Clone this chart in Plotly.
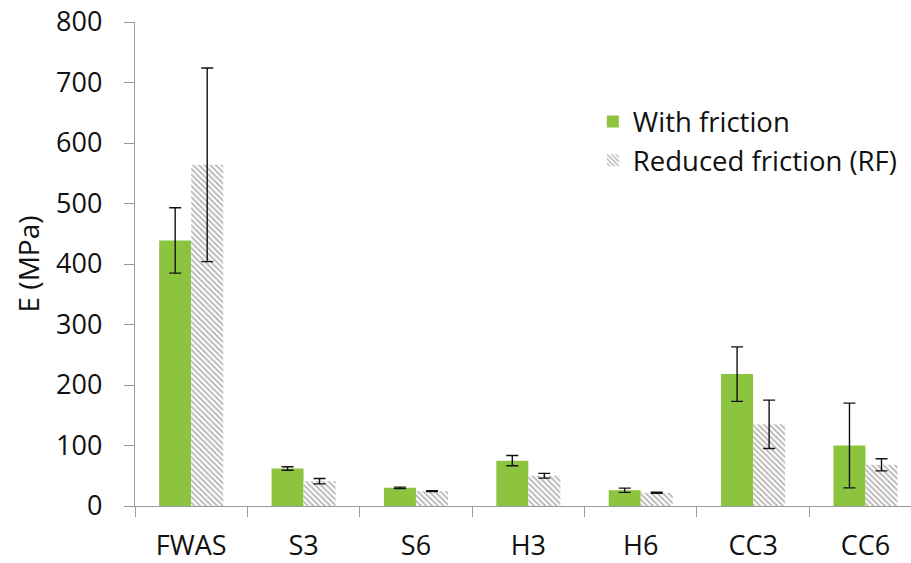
import plotly.graph_objects as go

categories = ["FWAS", "S3", "S6", "H3", "H6", "CC3", "CC6"]
with_friction = [439, 62, 30, 75, 26, 218, 100]
with_friction_err = [54, 3, 1.2, 8.5, 3.5, 45, 70]
reduced_friction = [564, 41, 24.5, 50, 22, 135, 68]
reduced_friction_err = [160, 4.5, 0.6, 4, 1, 40, 10]

FONT = "Open Sans"
AXIS_GRAY = "#9a9a9a"
FS = 27

fig = go.Figure()
fig.add_trace(go.Bar(
    x=categories, y=with_friction, name="With friction",
    legendgroup="a",
    marker=dict(color="#8cc43f", line=dict(width=0)),
    error_y=dict(type="data", array=with_friction_err, color="#111111",
                 thickness=1.4, width=6),
))
fig.add_trace(go.Bar(
    x=categories, y=reduced_friction, name="Reduced friction (RF)",
    legendgroup="b",
    marker=dict(color="white", line=dict(width=0),
                pattern=dict(shape="\\", fgcolor="#6a6862", bgcolor="white",
                             size=4, solidity=0.45)),
    error_y=dict(type="data", array=reduced_friction_err, color="#111111",
                 thickness=1.4, width=6),
))

fig.update_layout(
    width=911, height=563,
    margin=dict(l=135, r=0, t=22, b=57, pad=0, autoexpand=False),
    paper_bgcolor="white", plot_bgcolor="white",
    font=dict(family=FONT, size=FS, color="#111111"),
    barmode="group", bargap=0.43, bargroupgap=0,
    showlegend=True,
    legend=dict(x=0.59, y=0.845, xanchor="left", yanchor="top",
                bgcolor="rgba(0,0,0,0)", font=dict(size=27.5),
                tracegroupgap=0),
    xaxis=dict(
        range=[-0.5, 6.405], showline=True, linecolor=AXIS_GRAY, linewidth=1.3,
        ticks="outside", ticklen=10, tickcolor=AXIS_GRAY, tickwidth=1.3,
        tickson="boundaries", showgrid=False, ticklabelstandoff=15,
        tickfont=dict(size=FS), automargin=False, ticklabeloverflow="allow",
    ),
    yaxis=dict(
        range=[0, 800], dtick=100, showline=True, linecolor=AXIS_GRAY, linewidth=1.3,
        ticks="outside", ticklen=10, tickcolor=AXIS_GRAY, tickwidth=1.3,
        showgrid=False, zeroline=False, ticklabelstandoff=16,
        tickfont=dict(size=FS), automargin=False, ticklabeloverflow="allow",
        title=dict(text="E (MPa)", font=dict(size=FS + 1), standoff=8),
    ),
)

# remove the default 8px page margin so the 911x563 figure fills the window exactly
fig.write_html("out.html", config={"displayModeBar": False},
               post_script="document.body.style.margin='0';")
